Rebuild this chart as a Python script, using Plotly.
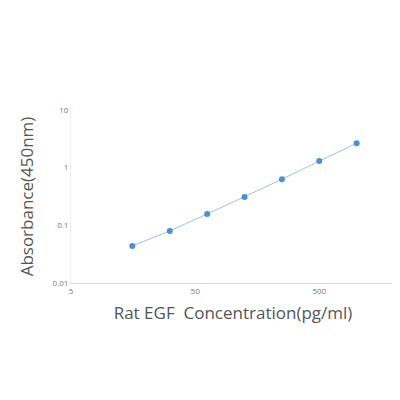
import plotly.graph_objects as go
import math

conc = [15.6, 31.25, 62.5, 125, 250, 500, 1000]
od = [0.044, 0.08, 0.157, 0.31, 0.63, 1.3, 2.65]
xticks = [5, 50, 500]
yticks = [0.01, 0.1, 1, 10]

fig = go.Figure(go.Scatter(x=conc, y=od, mode="lines+markers",
    line=dict(color="#9dc3e6", width=1),
    marker=dict(color="#4a8fd8", size=6)))
fig.update_layout(width=400, height=400, paper_bgcolor="white", plot_bgcolor="white",
    margin=dict(l=63, r=13, t=102, b=125), showlegend=False,
    font=dict(family="Open Sans"))
fig.update_xaxes(type="log", range=[math.log10(5), math.log10(5)+2.61], automargin=False,
    tickvals=xticks, ticktext=[str(v) for v in xticks], showgrid=False,
    showline=True, linecolor="#d9d9d9", zeroline=False,
    tickfont=dict(size=8, color="#777"),
    title=dict(text="Rat EGF  Concentration(pg/ml)", font=dict(size=17, color="#555"), standoff=12))
fig.update_yaxes(type="log", range=[-2, 1], tickvals=yticks, automargin=False,
    ticktext=["0.01", "0.1", "1", "10"], showgrid=False,
    showline=True, linecolor="#eeeeee", zeroline=False,
    tickfont=dict(size=8, color="#777"),
    title=dict(text="Absorbance(450nm)", font=dict(size=17, color="#555"), standoff=14))
fig.write_html("out.html")
